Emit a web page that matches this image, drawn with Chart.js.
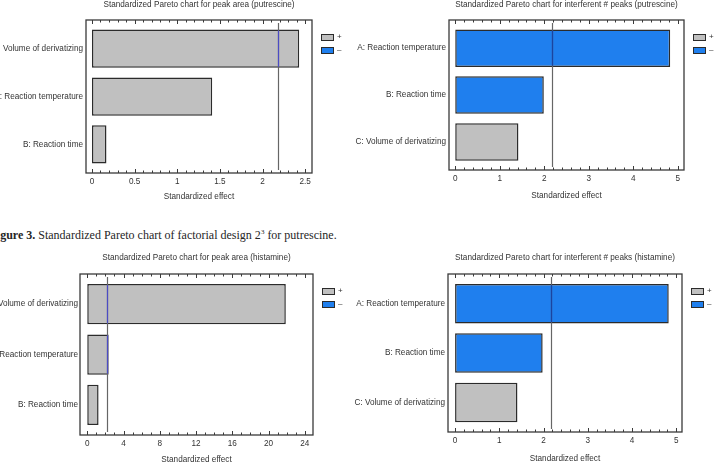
<!DOCTYPE html>
<html lang="en">
<head>
<meta charset="UTF-8">
<title>Standardized Pareto charts</title>
<script src="https://cdn.jsdelivr.net/npm/chart.js"></script>
<style>
  body { margin: 0; width: 723px; height: 474px; overflow: hidden; background: #fff; position: relative; }
  canvas { position: absolute; }
  .caption {
    position: absolute; left: -10.5px; top: 228.5px; white-space: nowrap;
    font: 12px 'Liberation Serif', 'Times New Roman', serif; line-height: 13px; color: #262626;
  }
  .caption sup { font-size: 7px; vertical-align: 5px; line-height: 0; }
</style>
</head>
<body>
<canvas id="putPeak"></canvas>
<canvas id="putInterf"></canvas>
<div class="caption"><b>Figure 3.</b> Standardized Pareto chart of factorial design 2<sup>3</sup> for putrescine.</div>
<canvas id="hisPeak"></canvas>
<canvas id="hisInterf"></canvas>

<script>
// data
const labelsPutPeak = ['C: Volume of derivatizing', 'A: Reaction temperature', 'B: Reaction time'];
const effectsPutPeak = [2.43, 1.41, 0.17];
const signsPutPeak = ['+', '+', '+'];
const ticksPutPeak = [0, 0.5, 1, 1.5, 2, 2.5];
const critPutPeak = 2.18;

const labelsPutInterf = ['A: Reaction temperature', 'B: Reaction time', 'C: Volume of derivatizing'];
const effectsPutInterf = [4.83, 1.99, 1.42];
const signsPutInterf = ['-', '-', '+'];
const ticksPutInterf = [0, 1, 2, 3, 4, 5];
const critPutInterf = 2.17;

const labelsHisPeak = ['C: Volume of derivatizing', 'A: Reaction temperature', 'B: Reaction time'];
const effectsHisPeak = [21.9, 2.36, 1.25];
const signsHisPeak = ['+', '+', '+'];
const ticksHisPeak = [0, 4, 8, 12, 16, 20, 24];
const critHisPeak = 2.17;

const labelsHisInterf = ['A: Reaction temperature', 'B: Reaction time', 'C: Volume of derivatizing'];
const effectsHisInterf = [4.83, 1.98, 1.41];
const signsHisInterf = ['-', '-', '+'];
const ticksHisInterf = [0, 1, 2, 3, 4, 5];
const critHisInterf = 2.16;

const FONT = "'Liberation Sans', Arial, sans-serif";
const FS = 8.2;
const INK = '#333';
const GRAY = '#c0c0c0';
const BLUE = '#1f7fee';
const EDGE = '#2b2b2b';

// frame, inward ticks, critical line and +/- legend
const paretoDecor = {
    id: 'paretoDecor',
    afterDatasetsDraw(chart, args, opts) {
        const {ctx, chartArea: a, scales} = chart;
        const xs = scales.x;
        ctx.save();

        // critical value line, tinted where it crosses a bar
        const lx = Math.round(xs.getPixelForValue(opts.crit)) + 0.5;
        ctx.lineWidth = 1.2;
        ctx.strokeStyle = '#666';
        ctx.beginPath();
        ctx.moveTo(lx, a.top + 3);
        ctx.lineTo(lx, a.bottom - 3);
        ctx.stroke();
        chart.getDatasetMeta(0).data.forEach((bar, i) => {
            if (opts.values[i] < opts.crit) return;
            ctx.strokeStyle = opts.signs[i] === '+' ? '#4b4bc4' : '#1b44a0';
            ctx.beginPath();
            ctx.moveTo(lx, bar.y - bar.height / 2 + 1);
            ctx.lineTo(lx, bar.y + bar.height / 2 - 1);
            ctx.stroke();
        });

        // plot frame
        ctx.strokeStyle = '#3a3a3a';
        ctx.lineWidth = 1.3;
        ctx.strokeRect(a.left, a.top, a.right - a.left, a.bottom - a.top);

        // major and minor ticks, pointing inward on top and bottom edges
        ctx.lineWidth = 1;
        ctx.beginPath();
        const t = opts.ticks;
        for (let i = 0; i < t.length; i++) {
            const px = Math.round(xs.getPixelForValue(t[i])) + 0.5;
            ctx.moveTo(px, a.top); ctx.lineTo(px, a.top + 4);
            ctx.moveTo(px, a.bottom); ctx.lineTo(px, a.bottom - 4);
            if (i < t.length - 1) {
                for (let k = 1; k < opts.minor; k++) {
                    const mx = Math.round(xs.getPixelForValue(t[i] + (t[i + 1] - t[i]) * k / opts.minor)) + 0.5;
                    ctx.moveTo(mx, a.top); ctx.lineTo(mx, a.top + 2.5);
                    ctx.moveTo(mx, a.bottom); ctx.lineTo(mx, a.bottom - 2.5);
                }
            }
        }
        ctx.stroke();

        // legend
        const bx = a.right + 9;
        [['+', GRAY, 14], ['\u2013', BLUE, 27]].forEach(([txt, col, dy]) => {
            ctx.fillStyle = col;
            ctx.fillRect(bx, a.top + dy, 13, 7);
            ctx.strokeStyle = EDGE;
            ctx.lineWidth = 1;
            ctx.strokeRect(bx + 0.5, a.top + dy + 0.5, 12, 6);
            ctx.fillStyle = INK;
            ctx.font = '8px ' + FONT;
            ctx.textBaseline = 'middle';
            ctx.fillText(txt, bx + 16, a.top + dy + 3);
        });
        ctx.restore();
    }
};

function pareto(id, spec, box) {
    const c = document.getElementById(id);
    c.width = box.width;
    c.height = box.height;
    c.style.left = box.left + 'px';
    c.style.top = box.top + 'px';

    const lh = FS * 1.2;
    const cl = box.plot[0] - box.left;
    const ct = box.plot[1] - box.top;
    const cr = box.plot[2] - box.left;
    const cb = box.plot[3] - box.top;
    const padT = box.titleY - box.top - lh / 2;
    const gap = ct - padT - lh;
    const xh = box.axisTitleY - box.top + lh / 2 - cb;
    const padB = box.height - cb - xh;
    const font = {family: FONT, size: FS};

    return new Chart(c, {
        type: 'bar',
        data: {
            datasets: [{
                data: spec.values.map((v, i) => ({x: v, y: i})),
                backgroundColor: spec.signs.map(s => s === '+' ? GRAY : BLUE),
                borderColor: EDGE,
                borderWidth: 1.5,
                borderSkipped: false,
                categoryPercentage: 1,
                barPercentage: 0.8
            }]
        },
        options: {
            indexAxis: 'y',
            responsive: false,
            animation: false,
            layout: {padding: {left: 0, top: padT, right: box.width - cr, bottom: padB}},
            plugins: {
                legend: {display: false},
                tooltip: {enabled: false},
                title: {
                    display: true,
                    text: spec.title,
                    fullSize: false,
                    color: INK,
                    font: {family: FONT, size: FS, weight: 'normal'},
                    padding: {top: 0, bottom: gap}
                },
                paretoDecor: {crit: spec.crit, values: spec.values, signs: spec.signs, ticks: spec.ticks, minor: box.minor}
            },
            scales: {
                x: {
                    type: 'linear',
                    min: box.xMin,
                    max: box.xMax,
                    offset: false,
                    grid: {display: false, drawTicks: false},
                    border: {display: false},
                    afterBuildTicks: s => { s.ticks = spec.ticks.map(v => ({value: v})); },
                    afterFit: s => { s.height = xh; },
                    ticks: {color: INK, font, padding: 4, autoSkip: false, maxRotation: 0, callback: v => String(v)},
                    title: {display: true, text: 'Standardized effect', color: INK, font, padding: 0}
                },
                y: {
                    type: 'linear',
                    reverse: true,
                    min: -0.6,
                    max: 2.6,
                    offset: false,
                    grid: {display: false, drawTicks: false},
                    border: {display: false},
                    afterBuildTicks: s => { s.ticks = spec.labels.map((_, i) => ({value: i})); },
                    afterFit: s => { s.width = cl; },
                    ticks: {color: INK, font, padding: box.labelGap, autoSkip: false, callback: v => spec.labels[v]}
                }
            }
        },
        plugins: [paretoDecor]
    });
}

pareto('putPeak',
    {title: 'Standardized Pareto chart for peak area (putrescine)', labels: labelsPutPeak, values: effectsPutPeak,
     signs: signsPutPeak, ticks: ticksPutPeak, crit: critPutPeak},
    {left: -40, top: 0, width: 385, height: 206, plot: [86, 20, 312, 173], titleY: 5, axisTitleY: 197,
     xMin: -0.07, xMax: 2.58, minor: 5, labelGap: 3});

pareto('putInterf',
    {title: 'Standardized Pareto chart for interferent # peaks (putrescine)', labels: labelsPutInterf, values: effectsPutInterf,
     signs: signsPutInterf, ticks: ticksPutInterf, crit: critPutInterf},
    {left: 350, top: 0, width: 373, height: 206, plot: [449, 20, 684, 170], titleY: 5, axisTitleY: 196,
     xMin: -0.14, xMax: 5.14, minor: 5, labelGap: 3});

pareto('hisPeak',
    {title: 'Standardized Pareto chart for peak area (histamine)', labels: labelsHisPeak, values: effectsHisPeak,
     signs: signsHisPeak, ticks: ticksHisPeak, crit: critHisPeak},
    {left: -40, top: 238, width: 385, height: 236, plot: [80, 274, 313, 435], titleY: 258, axisTitleY: 460,
     xMin: -0.8, xMax: 24.9, minor: 4, labelGap: 2});

pareto('hisInterf',
    {title: 'Standardized Pareto chart for interferent # peaks (histamine)', labels: labelsHisInterf, values: effectsHisInterf,
     signs: signsHisInterf, ticks: ticksHisInterf, crit: critHisInterf},
    {left: 350, top: 238, width: 373, height: 236, plot: [448, 274, 682, 432], titleY: 258, axisTitleY: 459,
     xMin: -0.16, xMax: 5.13, minor: 5, labelGap: 3});
</script>
</body>
</html>
